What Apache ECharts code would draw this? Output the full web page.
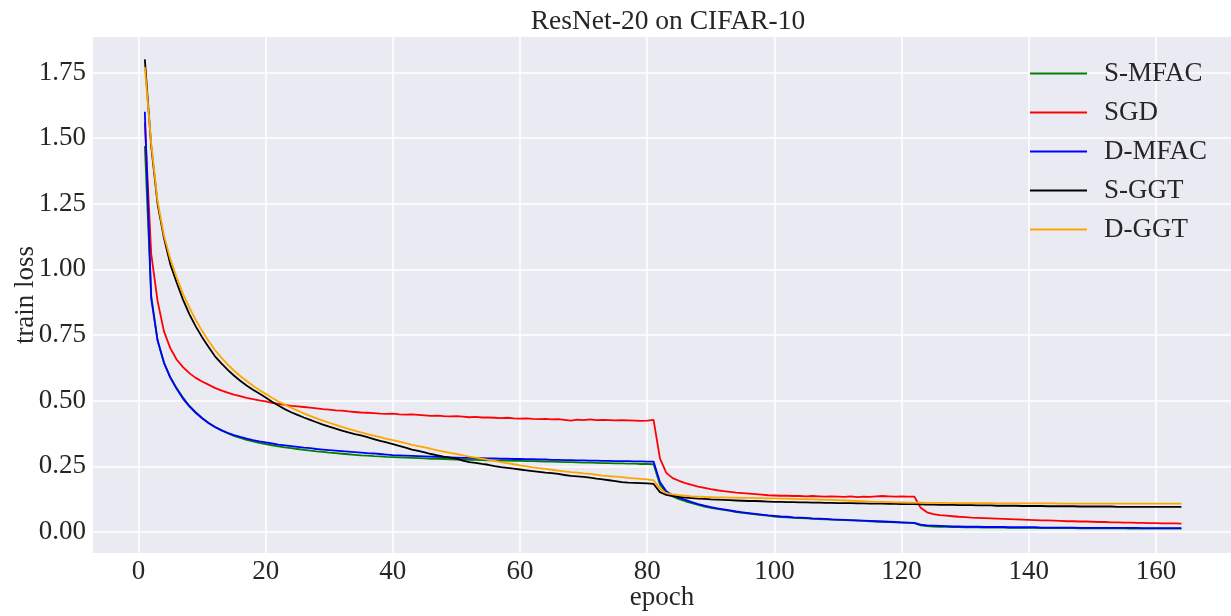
<!DOCTYPE html>
<html>
<head>
<meta charset="utf-8">
<script src="https://cdn.jsdelivr.net/npm/echarts@6/dist/echarts.min.js"></script>
<style>
html,body{margin:0;padding:0;background:#fff;}
#chart{width:1231px;height:616px;}
</style>
</head>
<body>
<div id="chart"></div>
<script>
const epochs = Array.from({length: 164}, (_, i) => i + 1);
const xTicks = [0, 20, 40, 60, 80, 100, 120, 140, 160];
const yTicks = [0, 0.25, 0.5, 0.75, 1.0, 1.25, 1.5, 1.75];
const seriesNames = ['S-MFAC', 'SGD', 'D-MFAC', 'S-GGT', 'D-GGT'];

const sMFAC = [
1.47,0.90,0.73,0.645,0.59,0.548,0.512,0.481,0.456,0.434,
0.416,0.401,0.388,0.376,0.366,0.358,0.351,0.345,0.339,0.335,
0.330,0.326,0.322,0.319,0.316,0.313,0.310,0.307,0.305,0.302,
0.300,0.298,0.296,0.294,0.292,0.291,0.289,0.288,0.286,0.285,
0.284,0.283,0.282,0.281,0.280,0.279,0.279,0.278,0.277,0.276,
0.276,0.275,0.275,0.274,0.273,0.273,0.272,0.272,0.271,0.271,
0.270,0.270,0.269,0.268,0.268,0.267,0.266,0.266,0.265,0.264,
0.264,0.263,0.262,0.262,0.261,0.261,0.260,0.260,0.259,0.259,
0.258,0.180,0.150,0.135,0.125,0.117,0.110,0.103,0.097,0.092,
0.088,0.084,0.080,0.076,0.073,0.070,0.067,0.064,0.062,0.059,
0.057,0.056,0.054,0.053,0.052,0.050,0.049,0.048,0.047,0.046,
0.045,0.044,0.043,0.042,0.041,0.040,0.039,0.038,0.037,0.036,
0.035,0.034,0.025,0.022,0.021,0.020,0.020,0.019,0.019,0.018,
0.018,0.018,0.017,0.017,0.017,0.017,0.016,0.016,0.016,0.016,
0.016,0.015,0.015,0.015,0.015,0.015,0.015,0.014,0.014,0.014,
0.014,0.014,0.014,0.014,0.014,0.013,0.013,0.013,0.013,0.013,
0.013,0.013,0.013,0.013];

const sgd = [
1.56,1.06,0.88,0.765,0.70,0.657,0.628,0.605,0.587,0.573,
0.561,0.549,0.539,0.531,0.523,0.517,0.511,0.506,0.501,0.497,
0.492,0.488,0.484,0.480,0.478,0.476,0.474,0.471,0.468,0.466,
0.463,0.462,0.459,0.457,0.455,0.454,0.453,0.451,0.450,0.451,
0.448,0.447,0.448,0.446,0.444,0.442,0.443,0.441,0.440,0.441,
0.439,0.437,0.438,0.436,0.436,0.435,0.434,0.435,0.433,0.432,
0.433,0.431,0.430,0.431,0.429,0.430,0.427,0.424,0.428,0.426,
0.429,0.426,0.427,0.426,0.425,0.426,0.425,0.424,0.423,0.424,
0.427,0.280,0.225,0.205,0.195,0.186,0.179,0.173,0.168,0.163,
0.159,0.156,0.153,0.150,0.148,0.146,0.144,0.142,0.140,0.139,
0.138,0.138,0.137,0.137,0.136,0.137,0.136,0.135,0.136,0.135,
0.134,0.136,0.133,0.135,0.134,0.136,0.137,0.136,0.135,0.136,
0.135,0.135,0.092,0.075,0.068,0.064,0.062,0.060,0.058,0.057,
0.055,0.054,0.053,0.052,0.051,0.050,0.049,0.048,0.047,0.046,
0.045,0.044,0.044,0.043,0.042,0.041,0.041,0.040,0.040,0.039,
0.038,0.038,0.037,0.037,0.036,0.036,0.035,0.035,0.034,0.034,
0.033,0.033,0.033,0.032];

const dMFAC = [
1.60,0.89,0.73,0.645,0.588,0.545,0.508,0.478,0.454,0.433,
0.415,0.400,0.388,0.378,0.369,0.362,0.356,0.350,0.345,0.341,
0.337,0.333,0.330,0.327,0.324,0.321,0.319,0.316,0.314,0.312,
0.310,0.308,0.306,0.304,0.302,0.300,0.299,0.297,0.295,0.293,
0.292,0.291,0.290,0.289,0.288,0.287,0.286,0.285,0.284,0.283,
0.282,0.282,0.281,0.281,0.280,0.280,0.279,0.279,0.278,0.278,
0.277,0.277,0.276,0.276,0.275,0.275,0.274,0.274,0.273,0.273,
0.272,0.272,0.271,0.271,0.270,0.270,0.270,0.269,0.269,0.268,
0.268,0.190,0.155,0.140,0.130,0.122,0.114,0.106,0.100,0.095,
0.090,0.086,0.082,0.078,0.075,0.072,0.069,0.066,0.063,0.061,
0.059,0.058,0.056,0.055,0.054,0.052,0.051,0.050,0.048,0.047,
0.046,0.045,0.044,0.043,0.042,0.041,0.040,0.039,0.038,0.037,
0.036,0.035,0.028,0.025,0.024,0.023,0.022,0.021,0.021,0.020,
0.020,0.020,0.019,0.019,0.019,0.019,0.018,0.018,0.018,0.018,
0.018,0.017,0.017,0.017,0.017,0.017,0.017,0.016,0.016,0.016,
0.016,0.016,0.016,0.016,0.016,0.016,0.016,0.015,0.015,0.015,
0.015,0.015,0.015,0.015];

const sGGT = [
1.80,1.47,1.25,1.12,1.02,0.95,0.885,0.83,0.783,0.742,
0.705,0.670,0.643,0.618,0.596,0.576,0.558,0.542,0.527,0.512,
0.496,0.482,0.468,0.456,0.446,0.436,0.427,0.418,0.409,0.401,
0.394,0.386,0.379,0.373,0.368,0.361,0.354,0.347,0.341,0.335,
0.328,0.321,0.314,0.309,0.303,0.297,0.292,0.287,0.283,0.279,
0.272,0.266,0.263,0.259,0.256,0.251,0.247,0.244,0.241,0.238,
0.235,0.232,0.229,0.226,0.224,0.221,0.217,0.214,0.212,0.210,
0.207,0.203,0.200,0.197,0.194,0.190,0.188,0.187,0.186,0.185,
0.183,0.152,0.141,0.137,0.134,0.131,0.129,0.127,0.126,0.124,
0.123,0.122,0.121,0.120,0.119,0.118,0.118,0.117,0.116,0.115,
0.115,0.114,0.114,0.113,0.113,0.112,0.112,0.111,0.111,0.110,
0.110,0.110,0.109,0.109,0.108,0.108,0.108,0.107,0.107,0.106,
0.106,0.106,0.105,0.104,0.104,0.103,0.103,0.103,0.102,0.102,
0.102,0.101,0.101,0.101,0.100,0.100,0.100,0.100,0.099,0.099,
0.099,0.099,0.098,0.098,0.098,0.098,0.098,0.097,0.097,0.097,
0.097,0.097,0.097,0.096,0.096,0.096,0.096,0.096,0.096,0.096,
0.096,0.096,0.096,0.096];

const dGGT = [
1.77,1.48,1.26,1.13,1.04,0.97,0.907,0.855,0.808,0.766,
0.728,0.694,0.665,0.638,0.615,0.594,0.575,0.557,0.541,0.526,
0.511,0.497,0.485,0.473,0.462,0.452,0.442,0.433,0.424,0.416,
0.408,0.400,0.393,0.386,0.379,0.373,0.367,0.361,0.355,0.350,
0.344,0.338,0.332,0.327,0.322,0.317,0.311,0.306,0.301,0.297,
0.292,0.287,0.283,0.279,0.275,0.271,0.266,0.262,0.258,0.254,
0.250,0.246,0.243,0.240,0.237,0.234,0.231,0.228,0.226,0.223,
0.221,0.218,0.215,0.213,0.211,0.209,0.206,0.204,0.202,0.200,
0.197,0.165,0.148,0.143,0.140,0.138,0.136,0.135,0.134,0.133,
0.132,0.132,0.131,0.131,0.130,0.130,0.129,0.129,0.128,0.128,
0.127,0.127,0.126,0.125,0.125,0.124,0.123,0.122,0.122,0.121,
0.120,0.119,0.118,0.117,0.116,0.115,0.115,0.114,0.113,0.113,
0.112,0.112,0.112,0.111,0.111,0.111,0.111,0.110,0.110,0.110,
0.110,0.110,0.110,0.110,0.109,0.109,0.109,0.109,0.109,0.109,
0.109,0.109,0.109,0.109,0.108,0.108,0.108,0.108,0.108,0.108,
0.108,0.108,0.108,0.108,0.108,0.108,0.108,0.108,0.108,0.108,
0.108,0.108,0.108,0.108];

const seriesValues = [sMFAC, sgd, dMFAC, sGGT, dGGT];
const seriesColors = ['green', 'red', 'blue', 'black', 'orange'];

const FONT = 'Liberation Serif';
const TXT = '#262626';

const chart = echarts.init(document.getElementById('chart'), null, {renderer: 'canvas'});
chart.setOption({
  animation: false,
  backgroundColor: '#ffffff',
  title: {
    text: 'ResNet-20 on CIFAR-10',
    left: 663,
    textAlign: 'center',
    top: 3,
    textStyle: {fontFamily: FONT, fontSize: 27.5, fontWeight: 'normal', color: TXT}
  },
  legend: {
    orient: 'vertical',
    left: 1025,
    top: 55,
    itemWidth: 57,
    itemHeight: 2,
    itemGap: 12,
    icon: 'rect',
    data: seriesNames,
    textStyle: {fontFamily: FONT, fontSize: 27, color: TXT, lineHeight: 27, padding: [0, 0, 0, 12]}
  },
  grid: {
    left: 93, right: 0, top: 37, bottom: 63,
    containLabel: false,
    outerBoundsMode: 'none',
    show: true, backgroundColor: '#EAEAF2', borderWidth: 0
  },
  xAxis: {
    type: 'value',
    min: -7.15, max: 171.8,
    name: 'epoch',
    nameLocation: 'middle',
    nameGap: 31,
    nameMoveOverlap: false,
    nameTextStyle: {fontFamily: FONT, fontSize: 27, color: TXT},
    axisLine: {show: false},
    axisTick: {show: false, customValues: xTicks},
    axisLabel: {customValues: xTicks, fontFamily: FONT, fontSize: 27, color: TXT, margin: 5},
    splitLine: {show: true, lineStyle: {color: '#ffffff', width: 1.5}}
  },
  yAxis: {
    type: 'value',
    min: -0.08, max: 1.885,
    name: 'train loss',
    nameLocation: 'middle',
    nameGap: 54,
    nameMoveOverlap: false,
    nameRotate: 90,
    nameTextStyle: {fontFamily: FONT, fontSize: 27, color: TXT},
    axisLine: {show: false},
    axisTick: {show: false, customValues: yTicks},
    axisLabel: {customValues: yTicks, fontFamily: FONT, fontSize: 27, color: TXT, margin: 7,
      formatter: v => v.toFixed(2)},
    splitLine: {show: true, lineStyle: {color: '#ffffff', width: 1.5}}
  },
  series: seriesNames.map((name, k) => ({
    name: name,
    type: 'line',
    showSymbol: false,
    symbol: 'none',
    color: seriesColors[k],
    lineStyle: {width: 1.8, color: seriesColors[k]},
    data: epochs.map((e, i) => [e, seriesValues[k][i]])
  }))
});
</script>
</body>
</html>
